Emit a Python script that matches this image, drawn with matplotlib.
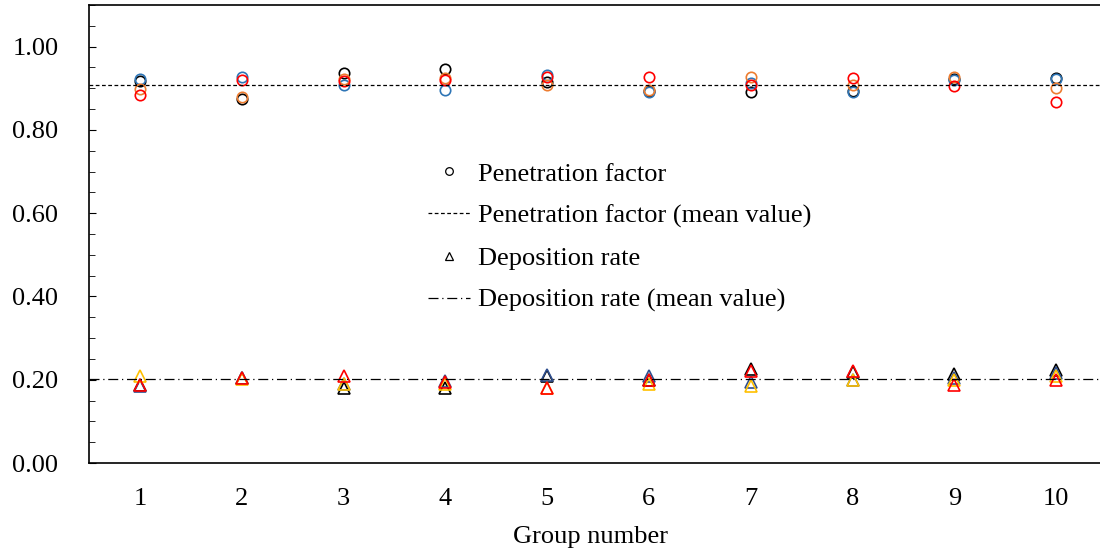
import numpy as np
import matplotlib
matplotlib.use("Agg")
import matplotlib.pyplot as plt
from matplotlib.ticker import MultipleLocator, FormatStrFormatter
from matplotlib.lines import Line2D

plt.rcParams['font.family'] = ['Liberation Serif', 'DejaVu Serif']

groups = [1, 2, 3, 4, 5, 6, 7, 8, 9, 10]

# Penetration factor, four runs per group
pen_black = [0.917, 0.875, 0.937, 0.947, 0.915, 0.894, 0.891, 0.894, 0.923, 0.925]
pen_blue = [0.923, 0.926, 0.907, 0.896, 0.931, 0.891, 0.912, 0.891, 0.921, 0.922]
pen_orange = [0.899, 0.879, 0.923, 0.925, 0.909, 0.895, 0.926, 0.909, 0.926, 0.900]
pen_red = [0.883, 0.921, 0.917, 0.921, 0.926, 0.926, 0.907, 0.925, 0.905, 0.868]
pen_mean = 0.908

# Deposition rate, four runs per group
dep_black = [0.187, 0.204, 0.180, 0.180, 0.210, 0.200, 0.226, 0.218, 0.213, 0.224]
dep_navy = [0.186, 0.204, 0.190, 0.197, 0.212, 0.210, 0.194, 0.200, 0.205, 0.216]
dep_yellow = [0.210, 0.202, 0.190, 0.190, 0.180, 0.190, 0.186, 0.200, 0.200, 0.210]
dep_red = [0.188, 0.205, 0.208, 0.195, 0.180, 0.200, 0.221, 0.220, 0.188, 0.200]
dep_mean = 0.202

fs = 19

fig = plt.figure(figsize=(11, 5.52), dpi=100)
ax = fig.add_axes([89 / 1100, 1 - 463 / 552, (1107 - 89) / 1100, (463 - 5) / 552])

ms = 7.5
mew = 1.2
for vals, c in [(pen_black, 'black'), (pen_blue, '#2E75B6'),
                (pen_orange, '#ED7D31'), (pen_red, '#FF0000')]:
    ax.plot(groups, vals, 'o', ms=ms, mfc='none', mec=c, mew=mew)
for vals, c in [(dep_black, 'black'), (dep_navy, '#2F4F8F'),
                (dep_yellow, '#FFC000'), (dep_red, '#FF0000')]:
    ax.plot(groups, vals, '^', ms=ms + 0.5, mfc='none', mec=c, mew=mew)

ax.axhline(pen_mean, color='black', lw=0.9, ls=(0, (3, 2)))
ax.axhline(dep_mean, color='black', lw=0.9, ls=(0, (8, 3, 1, 3)))

ax.set_xlim(0.5, 10.5)
ax.set_ylim(0, 1.10)
ax.set_xticks(groups)
ax.tick_params(axis='x', length=0, pad=18, labelsize=fs)
ax.yaxis.set_major_locator(MultipleLocator(0.2))
ax.yaxis.set_minor_locator(MultipleLocator(0.05))
ax.yaxis.set_major_formatter(FormatStrFormatter('%.2f'))
ax.tick_params(axis='y', which='both', direction='in', labelsize=fs, pad=22)
ax.tick_params(axis='y', which='major', length=5)
ax.tick_params(axis='y', which='minor', length=4)
ax.spines['right'].set_visible(False)
for s in ['left', 'bottom', 'top']:
    ax.spines[s].set_linewidth(1.2)
ax.set_xlabel('Group number', fontsize=fs)
ax.xaxis.set_label_coords(0.493, -0.137)

handles = [
    Line2D([], [], ls='none', marker='o', ms=5.5, mfc='none', mec='black', mew=0.9),
    Line2D([], [], color='black', lw=0.9, ls=(0, (3, 2))),
    Line2D([], [], ls='none', marker='^', ms=5.5, mfc='none', mec='black', mew=0.9),
    Line2D([], [], color='black', lw=0.9, ls=(0, (8, 3, 1, 3))),
]
labels = ['Penetration factor', 'Penetration factor (mean value)',
          'Deposition rate', 'Deposition rate (mean value)']
ax.legend(handles, labels, loc='center left', bbox_to_anchor=(0.333, 0.493),
          frameon=False, fontsize=fs, handlelength=1.6, handletextpad=0.3,
          labelspacing=0.7, borderpad=0, borderaxespad=0)

fig.savefig('out.png', dpi=100)
